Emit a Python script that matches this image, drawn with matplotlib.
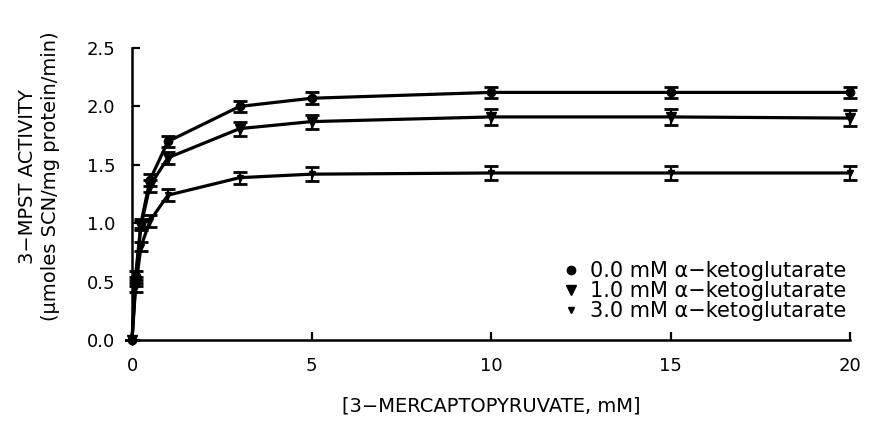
import matplotlib
matplotlib.use("Agg")
import matplotlib.pyplot as plt
from matplotlib.lines import Line2D

plt.rcParams['font.family'] = ['DejaVu Sans']

x_mm = [0, 0.1, 0.25, 0.5, 1, 3, 5, 10, 15, 20]
act_0mM = [0, 0.55, 1.00, 1.37, 1.70, 2.00, 2.07, 2.12, 2.12, 2.12]
act_1mM = [0, 0.50, 0.98, 1.32, 1.56, 1.81, 1.87, 1.91, 1.91, 1.90]
act_3mM = [0, 0.45, 0.80, 1.02, 1.24, 1.39, 1.42, 1.43, 1.43, 1.43]
err_0mM = [0, 0.04, 0.04, 0.05, 0.05, 0.05, 0.05, 0.05, 0.05, 0.05]
err_1mM = [0, 0.04, 0.04, 0.05, 0.05, 0.06, 0.06, 0.07, 0.07, 0.07]
err_3mM = [0, 0.04, 0.04, 0.05, 0.05, 0.05, 0.06, 0.06, 0.06, 0.06]
labels = ["0.0 mM \u03b1\u2212ketoglutarate",
          "1.0 mM \u03b1\u2212ketoglutarate",
          "3.0 mM \u03b1\u2212ketoglutarate"]
xticks = [0, 5, 10, 15, 20]
yticks = [0.0, 0.5, 1.0, 1.5, 2.0, 2.5]

fig = plt.figure(figsize=(8.8, 4.25), dpi=100)
ax = fig.add_axes([0.15, 0.2, 0.816, 0.687])

series = [(act_0mM, err_0mM, 'o', 6), (act_1mM, err_1mM, 'v', 6.5), (act_3mM, err_3mM, 'v', 5)]
handles = []
for (y, e, m, ms), lab in zip(series, labels):
    ax.errorbar(x_mm, y, yerr=e, color='black', lw=2.3, marker=m, ms=ms,
                capsize=5, capthick=2, elinewidth=1.6, clip_on=False, zorder=3)
    handles.append(Line2D([], [], color='black', marker=m, ms=ms, ls='none'))

ax.set_xlim(0, 20)
ax.set_ylim(0, 2.5)
ax.set_xticks(xticks)
ax.set_xticklabels([str(t) for t in xticks])
ax.set_yticks(yticks)
ax.set_yticklabels([f"{t:.1f}" for t in yticks])
for s in ['top', 'right']:
    ax.spines[s].set_visible(False)
for s in ['left', 'bottom']:
    ax.spines[s].set_linewidth(1.8)
ax.tick_params(direction='in', length=6, width=1.6, labelsize=13, pad=12)

ax.set_xlabel("[3\u2212MERCAPTOPYRUVATE, mM]", fontsize=14, labelpad=16)
ax.set_ylabel("3\u2212MPST ACTIVITY\n(\u00b5moles SCN/mg protein/min)", fontsize=14,
              linespacing=1.25)
ax.yaxis.set_label_coords(-0.1, 0.56)

ax.legend(handles, labels, loc='upper left', bbox_to_anchor=(0.6, 0.27),
          frameon=False, fontsize=15, handlelength=0.8, handletextpad=0.5,
          labelspacing=0.0, borderpad=0, borderaxespad=0)

fig.savefig("out.png", dpi=100)
